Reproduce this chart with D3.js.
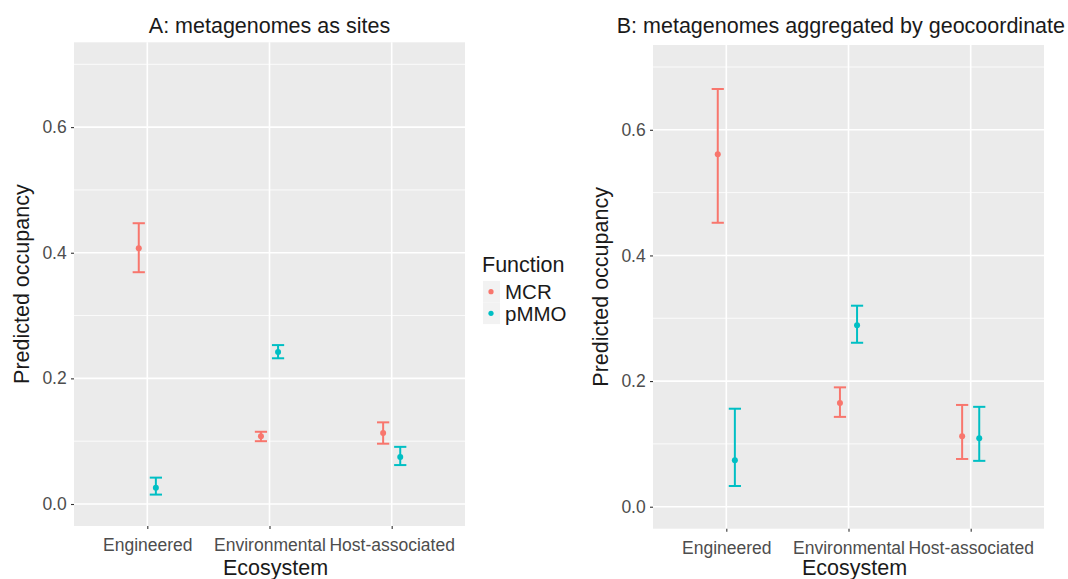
<!DOCTYPE html>
<html lang="en">
<head>
  <meta charset="UTF-8" />
  <title>Predicted occupancy by ecosystem</title>
  <style>
    body { margin: 0; padding: 0; background: #fff; }
    svg { display: block; font-family: "Liberation Sans", Arial, Helvetica, sans-serif; }
    .tick text { fill: #4d4d4d; font-size: 17.5px; }
    .tick line { stroke: #333; stroke-width: 1.1px; }
    .title { fill: #1a1a1a; font-size: 21.5px; }
  </style>
</head>
<body>
  <svg id="chart" width="1068" height="579"></svg>
  <script src="https://d3js.org/d3.v7.min.js"></script>
  <script>
    const ecosystems = ["Engineered", "Environmental", "Host-associated"];
    const functions = ["MCR", "pMMO"];
    const colors = ["#F8766D", "#00BFC4"];

    // panel A: metagenomes as sites
    const siteMcrFit  = [0.407, 0.108, 0.113];
    const siteMcrLow  = [0.369, 0.100, 0.096];
    const siteMcrHigh = [0.447, 0.115, 0.130];
    const sitePmmoFit  = [0.026, 0.242, 0.075];
    const sitePmmoLow  = [0.015, 0.232, 0.062];
    const sitePmmoHigh = [0.042, 0.253, 0.091];

    // panel B: aggregated by geocoordinate
    const geoMcrFit  = [0.561, 0.165, 0.112];
    const geoMcrLow  = [0.452, 0.143, 0.076];
    const geoMcrHigh = [0.665, 0.190, 0.162];
    const geoPmmoFit  = [0.074, 0.289, 0.109];
    const geoPmmoLow  = [0.033, 0.261, 0.073];
    const geoPmmoHigh = [0.156, 0.320, 0.159];

    const yLimits = [0, 0.7];
    const yTicks = [0, 0.2, 0.4, 0.6];
    const yMinor = [0.1, 0.3, 0.5, 0.7];

    function rows(mcr, pmmo) {
      const out = [];
      ecosystems.forEach((e, i) => {
        out.push({ eco: e, fn: "MCR", fit: mcr[0][i], lo: mcr[1][i], hi: mcr[2][i] });
        out.push({ eco: e, fn: "pMMO", fit: pmmo[0][i], lo: pmmo[1][i], hi: pmmo[2][i] });
      });
      return out;
    }

    const panelA = rows([siteMcrFit, siteMcrLow, siteMcrHigh], [sitePmmoFit, sitePmmoLow, sitePmmoHigh]);
    const panelB = rows([geoMcrFit, geoMcrLow, geoMcrHigh], [geoPmmoFit, geoPmmoLow, geoPmmoHigh]);

    const svg = d3.select("#chart");
    const color = d3.scaleOrdinal().domain(functions).range(colors);

    function drawPanel(data, title, box) {
      const g = svg.append("g");
      const x = d3.scalePoint().domain(ecosystems).range([box.left, box.right]).padding(0.6);
      const span = yLimits[1] - yLimits[0];
      const y = d3.scaleLinear()
        .domain([yLimits[0] - span * 0.05, yLimits[1] + span * 0.05])
        .range([box.bottom, box.top]);
      const step = x.step();
      const dodge = d3.scalePoint().domain(functions).range([-step * 0.07, step * 0.07]);
      const capHalf = step * 0.05;

      g.append("rect")
        .attr("x", box.left).attr("y", box.top)
        .attr("width", box.right - box.left).attr("height", box.bottom - box.top)
        .attr("fill", "#ebebeb");

      g.selectAll(".minor").data(yMinor).enter().append("line")
        .attr("x1", box.left).attr("x2", box.right)
        .attr("y1", d => y(d)).attr("y2", d => y(d))
        .attr("stroke", "#fff").attr("stroke-width", 0.8);

      g.selectAll(".hmajor").data(yTicks).enter().append("line")
        .attr("x1", box.left).attr("x2", box.right)
        .attr("y1", d => y(d)).attr("y2", d => y(d))
        .attr("stroke", "#fff").attr("stroke-width", 1.6);

      g.selectAll(".vmajor").data(ecosystems).enter().append("line")
        .attr("x1", d => x(d)).attr("x2", d => x(d))
        .attr("y1", box.top).attr("y2", box.bottom)
        .attr("stroke", "#fff").attr("stroke-width", 1.6);

      const yAxis = g.append("g")
        .attr("transform", `translate(${box.left},0)`)
        .call(d3.axisLeft(y).tickValues(yTicks).tickFormat(d3.format(".1f")).tickSize(3).tickPadding(4.3));
      yAxis.select(".domain").remove();

      const xAxis = g.append("g")
        .attr("transform", `translate(0,${box.bottom})`)
        .call(d3.axisBottom(x).tickSize(3).tickPadding(9.5));
      xAxis.select(".domain").remove();

      svg.selectAll(".tick text").attr("font-family", null);
      svg.selectAll(".tick text").attr("font-size", null);

      const bars = g.selectAll(".bar").data(data).enter().append("g")
        .attr("transform", d => `translate(${x(d.eco) + dodge(d.fn)},0)`)
        .attr("stroke", d => color(d.fn))
        .attr("fill", d => color(d.fn));

      bars.append("line")
        .attr("x1", 0).attr("x2", 0)
        .attr("y1", d => y(d.lo)).attr("y2", d => y(d.hi))
        .attr("stroke-width", 2);
      bars.append("line")
        .attr("x1", -capHalf).attr("x2", capHalf)
        .attr("y1", d => y(d.hi)).attr("y2", d => y(d.hi))
        .attr("stroke-width", 2);
      bars.append("line")
        .attr("x1", -capHalf).attr("x2", capHalf)
        .attr("y1", d => y(d.lo)).attr("y2", d => y(d.lo))
        .attr("stroke-width", 2);
      bars.append("circle")
        .attr("cx", 0).attr("cy", d => y(d.fit))
        .attr("r", 3).attr("stroke", "none");

      const cx = (box.left + box.right) / 2;
      const t = svg.append("text").attr("class", "title")
        .attr("x", cx).attr("y", 33)
        .attr("text-anchor", "middle")
        .text(title);
      const w = t.node().getComputedTextLength();
      if (cx + w / 2 > 1065) t.attr("x", 1065 - w / 2);

      svg.append("text").attr("class", "title")
        .attr("x", cx + 6).attr("y", 575)
        .attr("text-anchor", "middle")
        .text("Ecosystem");

      const cy = (box.top + box.bottom) / 2;
      svg.append("text").attr("class", "title")
        .attr("transform", `translate(${box.left - 45},${cy}) rotate(-90)`)
        .attr("text-anchor", "middle")
        .text("Predicted occupancy");
    }

    drawPanel(panelA, "A: metagenomes as sites", { left: 74, right: 465, top: 42.3, bottom: 526 });
    drawPanel(panelB, "B: metagenomes aggregated by geocoordinate", { left: 653, right: 1044, top: 45, bottom: 528.7 });

    // legend
    const legend = svg.append("g").attr("transform", "translate(482,0)");
    legend.append("text").attr("class", "title")
      .attr("x", 0).attr("y", 272)
      .text("Function");
    const keys = legend.selectAll(".key").data(functions).enter().append("g")
      .attr("transform", (d, i) => `translate(0,${291.7 + i * 21.6})`);
    keys.append("rect")
      .attr("x", 1).attr("y", -10.8).attr("width", 17).attr("height", 21.6)
      .attr("fill", "#f2f2f2");
    keys.append("circle")
      .attr("cx", 9).attr("cy", 0).attr("r", 2.6)
      .attr("fill", d => color(d));
    keys.append("text")
      .attr("x", 23).attr("y", 7.5)
      .attr("font-size", "20.5px").attr("fill", "#1a1a1a")
      .text(d => d);
  </script>
</body>
</html>
